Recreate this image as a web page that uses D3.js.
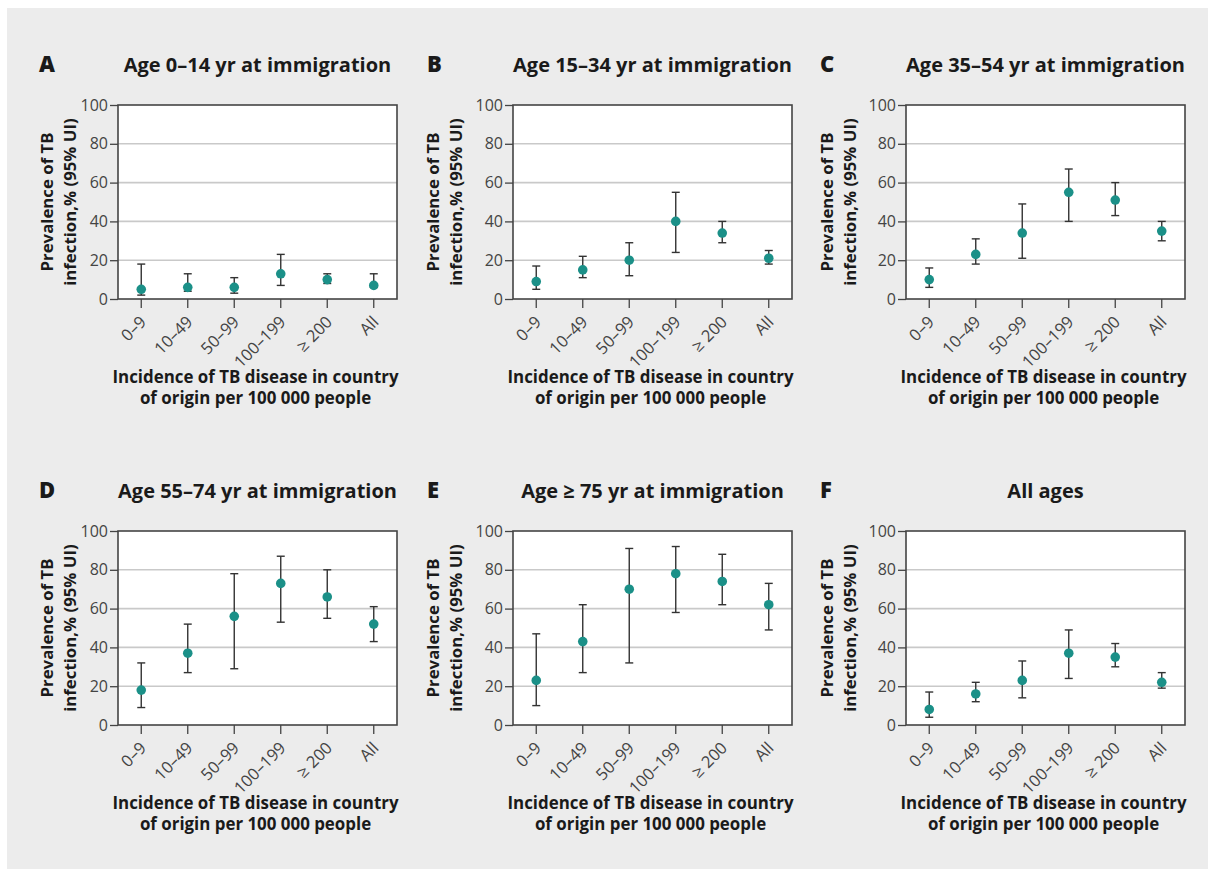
<!DOCTYPE html>
<html>
<head>
<meta charset="utf-8">
<script src="https://cdn.jsdelivr.net/npm/d3@7"></script>
<style>
  body { margin: 0; background: #fff; }
  svg { display: block; }
  text { font-family: "Open Sans", Lato, sans-serif; }
</style>
</head>
<body>
<svg id="chart" width="1208" height="869"></svg>
<script>
// categories on the x axis (incidence per 100 000)
const categories = ["0–9", "10–49", "50–99", "100–199", "≥ 200", "All"];
const yTicks = [0, 20, 40, 60, 80, 100];

const panelLetters = ["A", "B", "C", "D", "E", "F"];
const panelTitles = [
  "Age 0–14 yr at immigration",
  "Age 15–34 yr at immigration",
  "Age 35–54 yr at immigration",
  "Age 55–74 yr at immigration",
  "Age ≥ 75 yr at immigration",
  "All ages",
];

// point estimates and 95% UI per panel
const estA = [5, 6, 6, 13, 10, 7];
const lowA = [2, 4, 3, 7, 8, 6];
const highA = [18, 13, 11, 23, 13, 13];

const estB = [9, 15, 20, 40, 34, 21];
const lowB = [5, 11, 12, 24, 29, 18];
const highB = [17, 22, 29, 55, 40, 25];

const estC = [10, 23, 34, 55, 51, 35];
const lowC = [6, 18, 21, 40, 43, 30];
const highC = [16, 31, 49, 67, 60, 40];

const estD = [18, 37, 56, 73, 66, 52];
const lowD = [9, 27, 29, 53, 55, 43];
const highD = [32, 52, 78, 87, 80, 61];

const estE = [23, 43, 70, 78, 74, 62];
const lowE = [10, 27, 32, 58, 62, 49];
const highE = [47, 62, 91, 92, 88, 73];

const estF = [8, 16, 23, 37, 35, 22];
const lowF = [4, 12, 14, 24, 30, 19];
const highF = [17, 22, 33, 49, 42, 27];

const panelData = [
  [estA, lowA, highA],
  [estB, lowB, highB],
  [estC, lowC, highC],
  [estD, lowD, highD],
  [estE, lowE, highE],
  [estF, lowF, highF],
];

// layout
const colLeft = [118, 513, 906];
const colLetterX = [39, 427, 820];
const colYTitle = [-65, -74, -73];
const rowTop = [105, 531];
const plotW = 279;
const plotH = 194;

const svg = d3.select("#chart");

svg.append("rect")
  .attr("x", 7).attr("y", 8)
  .attr("width", 1201).attr("height", 861)
  .attr("fill", "#ececec");

panelData.forEach(function (pd, i) {
  const col = i % 3;
  const row = Math.floor(i / 3);
  const left = colLeft[col];
  const top = rowTop[row];
  const [est, low, high] = pd;
  const points = categories.map((c, j) => ({ cat: c, est: est[j], low: low[j], high: high[j] }));

  const x = d3.scaleBand().domain(categories).range([left, left + plotW]);
  const y = d3.scaleLinear().domain([0, 100]).range([top + plotH, top]);

  const g = svg.append("g").attr("class", "panel");

  // plot background
  g.append("rect")
    .attr("x", left).attr("y", top)
    .attr("width", plotW).attr("height", plotH)
    .attr("fill", "#fff");

  // gridlines
  g.append("g")
    .selectAll("line")
    .data(yTicks.filter((t) => t > 0 && t < 100))
    .join("line")
    .attr("x1", left).attr("x2", left + plotW)
    .attr("y1", (d) => y(d)).attr("y2", (d) => y(d))
    .attr("stroke", "#c9c9c9")
    .attr("stroke-width", 1.6);

  // y axis
  g.append("g")
    .attr("transform", `translate(${left},0)`)
    .call(d3.axisLeft(y).tickValues(yTicks).tickSize(8).tickPadding(2))
    .call((a) => a.select(".domain").remove())
    .call((a) => a.selectAll(".tick line").attr("stroke", "#444").attr("stroke-width", 1.3))
    .call((a) => a.selectAll(".tick text")
      .attr("fill", "#444")
      .style("font-size", "16px")
      .style("font-family", "'Open Sans', sans-serif"));

  // x axis
  g.append("g")
    .attr("transform", `translate(0,${top + plotH})`)
    .call(d3.axisBottom(x).tickSize(9).tickSizeOuter(0))
    .call((a) => a.select(".domain").remove())
    .call((a) => a.selectAll(".tick line").attr("stroke", "#444").attr("stroke-width", 1.3))
    .call((a) => a.selectAll(".tick text")
      .attr("fill", "#444")
      .attr("text-anchor", "end")
      .attr("y", 0).attr("dy", 0)
      .attr("transform", "translate(6,24) rotate(-45)")
      .style("font-size", "16.5px")
      .style("font-family", "'Open Sans', sans-serif"));

  // frame
  g.append("rect")
    .attr("x", left).attr("y", top)
    .attr("width", plotW).attr("height", plotH)
    .attr("fill", "none")
    .attr("stroke", "#444")
    .attr("stroke-width", 1.6);

  // error bars
  const bars = g.append("g").attr("stroke", "#333").attr("stroke-width", 1.4);
  const cx = (d) => x(d.cat) + x.bandwidth() / 2;
  bars.selectAll(".v").data(points).join("line")
    .attr("x1", cx).attr("x2", cx)
    .attr("y1", (d) => y(d.low)).attr("y2", (d) => y(d.high));
  bars.selectAll(".hi").data(points).join("line")
    .attr("x1", (d) => cx(d) - 4).attr("x2", (d) => cx(d) + 4)
    .attr("y1", (d) => y(d.high)).attr("y2", (d) => y(d.high));
  bars.selectAll(".lo").data(points).join("line")
    .attr("x1", (d) => cx(d) - 4).attr("x2", (d) => cx(d) + 4)
    .attr("y1", (d) => y(d.low)).attr("y2", (d) => y(d.low));

  // points
  g.append("g").selectAll("circle").data(points).join("circle")
    .attr("cx", cx).attr("cy", (d) => y(d.est))
    .attr("r", 4.8)
    .attr("fill", "#1b9088");

  // panel letter and title
  g.append("text")
    .attr("x", colLetterX[col]).attr("y", top - 33)
    .attr("fill", "#1a1a1a")
    .style("font-size", "22px").style("font-weight", 800)
    .text(panelLetters[i]);
  g.append("text")
    .attr("x", left + plotW / 2).attr("y", top - 33)
    .attr("text-anchor", "middle")
    .attr("fill", "#1a1a1a")
    .style("font-size", "20px").style("font-weight", 700)
    .text(panelTitles[i]);

  // y axis title
  const yt = g.append("text")
    .attr("transform", `translate(${left + colYTitle[col]},${top + plotH / 2}) rotate(-90)`)
    .attr("text-anchor", "middle")
    .attr("fill", "#1a1a1a")
    .style("font-size", "16.8px").style("font-weight", 700);
  yt.append("tspan").attr("x", 0).attr("dy", 0).text("Prevalence of TB");
  yt.append("tspan").attr("x", 0).attr("dy", 23).text("infection,% (95% UI)");

  // x axis title
  const xt = g.append("text")
    .attr("x", left + plotW / 2 - 2).attr("y", top + plotH + 84)
    .attr("text-anchor", "middle")
    .attr("fill", "#1a1a1a")
    .style("font-size", "16.9px").style("font-weight", 700);
  xt.append("tspan").attr("x", left + plotW / 2 - 2).text("Incidence of TB disease in country");
  xt.append("tspan").attr("x", left + plotW / 2 - 2).attr("dy", 21).text("of origin per 100 000 people");
});
</script>
</body>
</html>
